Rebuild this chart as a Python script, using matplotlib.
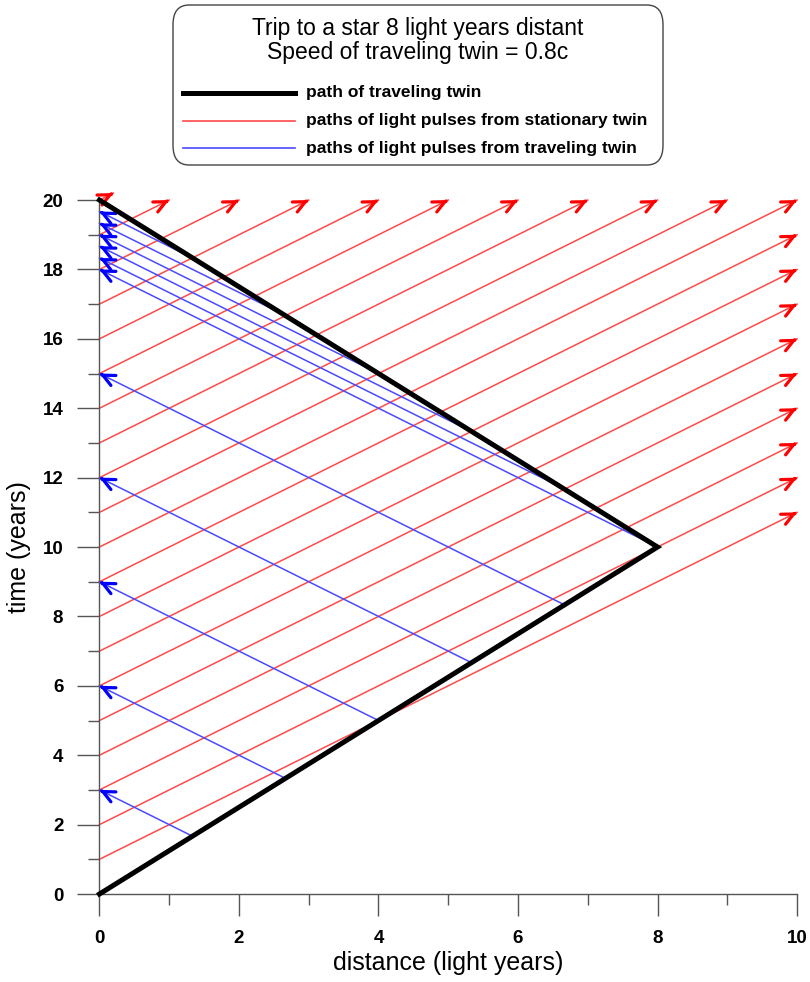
import matplotlib
matplotlib.use("Agg")
import matplotlib.pyplot as plt
from matplotlib.lines import Line2D
from matplotlib.patches import FancyBboxPatch

plt.rcParams['font.family'] = ['Liberation Sans', 'DejaVu Sans']

# path of the travelling twin (distance, time)
twin_x = [0, 8, 0]
twin_t = [0, 10, 20]

# light pulses from the stationary twin: start time at x=0, arrow tip
red_start = [1, 2, 3, 4, 5, 6, 7, 8, 9, 10, 11, 12, 13, 14, 15, 16, 17, 18, 19, 20]
red_end_x = [10, 10, 10, 10, 10, 10, 10, 10, 10, 10, 9, 8, 7, 6, 5, 4, 3, 2, 1, 0.2]
red_end_t = [11, 12, 13, 14, 15, 16, 17, 18, 19, 20, 20, 20, 20, 20, 20, 20, 20, 20, 20, 20.2]

# light pulses from the travelling twin: emission point, arrival time at x=0
blue_x = [1.33, 2.67, 4.0, 5.33, 6.67, 8.0, 6.67, 5.33, 4.0, 2.67, 1.33]
blue_t = [1.67, 3.33, 5.0, 6.67, 8.33, 10.0, 11.67, 13.33, 15.0, 16.67, 18.33]
blue_arrive = [3, 6, 9, 12, 15, 18, 18.33, 18.67, 19, 19.33, 19.67]

red = '#ff4a4a'
blue = '#4a4aff'
grey = '#555555'

fig = plt.figure(figsize=(8.1, 9.82), dpi=100)
ax = fig.add_axes([0.1228, 0.0896, 0.984 - 0.1228, 0.7963 - 0.0896])

def arrow(x0, y0, x1, y1, col, head):
    ax.plot([x0, x1], [y0, y1], color=col, lw=1.1, clip_on=False, zorder=2)
    dx, dy = x1 - x0, y1 - y0
    n = (dx ** 2 + dy ** 2) ** 0.5
    ax.annotate('', xy=(x1, y1), xytext=(x1 - 0.05 * dx / n, y1 - 0.05 * dy / n),
                arrowprops=dict(arrowstyle='->,head_length=0.85,head_width=0.4',
                                color=head, lw=2.3, shrinkA=0, shrinkB=0),
                annotation_clip=False, zorder=3)

for t, ex, et in zip(red_start, red_end_x, red_end_t):
    arrow(0, t, ex, et, red, 'red')

for bx, bt, ba in zip(blue_x, blue_t, blue_arrive):
    arrow(bx, bt, 0, ba, blue, 'blue')

ax.plot(twin_x, twin_t, color='black', lw=3.6, clip_on=False, zorder=4,
        solid_joinstyle='miter')

ax.set_xlim(0, 10)
ax.set_ylim(0, 20)
for s in ['top', 'right']:
    ax.spines[s].set_visible(False)
for s in ['left', 'bottom']:
    ax.spines[s].set_color(grey)
    ax.spines[s].set_linewidth(1.0)
ax.set_xticks(range(0, 11, 2))
ax.set_xticks(range(0, 11, 1), minor=True)
ax.set_yticks(range(0, 21, 2))
ax.set_yticks(range(0, 21, 1), minor=True)
ax.tick_params(which='major', length=16, width=1, color=grey, pad=10,
               labelsize=13.5)
ax.tick_params(which='minor', length=8, width=1, color=grey)
for lab in ax.get_xticklabels() + ax.get_yticklabels():
    lab.set_fontweight('bold')

ax.set_xlabel('distance (light years)', fontsize=18, labelpad=3)
ax.set_ylabel('time (years)', fontsize=18, labelpad=8)

# legend box
W, H = 810, 982
box = FancyBboxPatch((173 / W, 1 - 165 / H), 490 / W, 160 / H,
                     boxstyle='round,pad=0,rounding_size=0.02',
                     transform=fig.transFigure, facecolor='white',
                     edgecolor='#444444', lw=1.0)
fig.patches.append(box)
fig.text(418 / W, 1 - 28 / H, 'Trip to a star 8 light years distant',
         ha='center', va='center', fontsize=16.5)
fig.text(418 / W, 1 - 53 / H, 'Speed of traveling twin = 0.8c',
         ha='center', va='center', fontsize=16.5)
entries = [('path of traveling twin', 'black', 3.6),
           ('paths of light pulses from stationary twin', red, 1.2),
           ('paths of light pulses from traveling twin', blue, 1.2)]
for (txt, col, lw), yy in zip(entries, [93, 121, 148]):
    fig.add_artist(Line2D([183 / W, 295 / W], [1 - yy / H, 1 - yy / H],
                          color=col, lw=lw, transform=fig.transFigure))
    fig.text(306 / W, 1 - yy / H, txt, ha='left', va='center',
             fontsize=12.5, fontweight='bold')

fig.savefig('out.png', dpi=100)
